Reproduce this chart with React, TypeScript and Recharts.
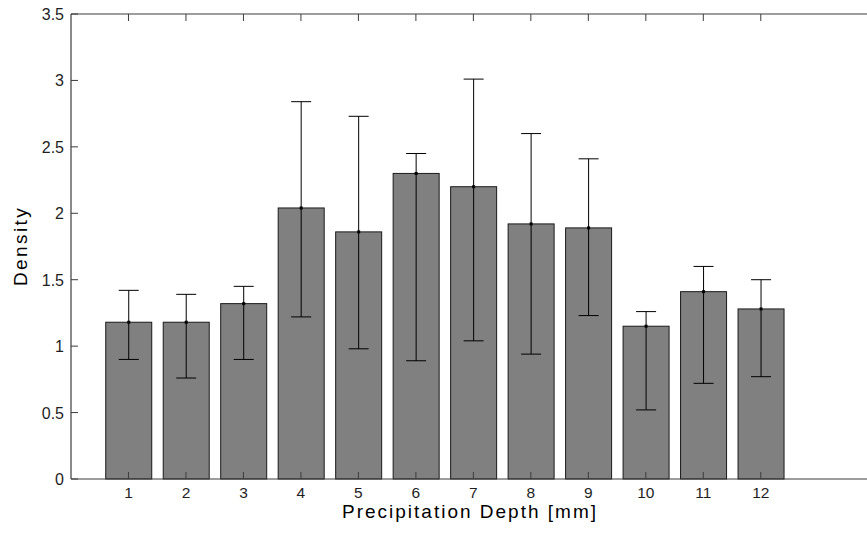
import React from "react";
import { ComposedChart, Bar, ErrorBar, XAxis, YAxis, Label } from "recharts";

// bin index along precipitation depth
const depths = [1, 2, 3, 4, 5, 6, 7, 8, 9, 10, 11, 12];
// mean density per bin
const density = [1.18, 1.18, 1.32, 2.04, 1.86, 2.3, 2.2, 1.92, 1.89, 1.15, 1.41, 1.28];
// error bar ends
const upper = [1.42, 1.39, 1.45, 2.84, 2.73, 2.45, 3.01, 2.6, 2.41, 1.26, 1.6, 1.5];
const lower = [0.9, 0.76, 0.9, 1.22, 0.98, 0.89, 1.04, 0.94, 1.23, 0.52, 0.72, 0.77];
const yTicks = [0, 0.5, 1, 1.5, 2, 2.5, 3, 3.5];

const data = depths.map((x, i) => ({
  x,
  mean: density[i],
  err: [density[i] - lower[i], upper[i] - density[i]],
}));

const AXIS = "#3c3c3c";
const TEXT = "#1e1e1e";
const FONT = "'Liberation Sans', Arial, sans-serif";

function LeftTick({ x, y, payload }: any) {
  return (
    <g>
      <line x1={x} x2={x + 7} y1={y} y2={y} stroke={AXIS} />
      <text x={x - 7} y={y + 6} textAnchor="end" fontSize={16} fill={TEXT} fontFamily={FONT}>
        {payload.value}
      </text>
    </g>
  );
}

function RightTick({ x, y }: any) {
  return <line x1={x} x2={x - 7} y1={y} y2={y} stroke={AXIS} />;
}

function BottomTick({ x, y, payload }: any) {
  return (
    <g>
      <line x1={x} x2={x} y1={y} y2={y - 7} stroke={AXIS} />
      <text x={x} y={y + 18.5} textAnchor="middle" fontSize={15.5} fill={TEXT} fontFamily={FONT}>
        {payload.value}
      </text>
    </g>
  );
}

function TopTick({ x, y }: any) {
  return <line x1={x} x2={x} y1={y} y2={y + 7} stroke={AXIS} />;
}

function BarShape({ x, y, width, height }: any) {
  return (
    <g>
      <rect x={x} y={y} width={width} height={height} fill="#808080" stroke="#1a1a1a" strokeWidth={1} />
      <rect x={x + width / 2 - 1.5} y={y - 1.5} width={3} height={3} fill="#000" />
    </g>
  );
}

export default function App() {
  return (
    <div
      style={{
        position: "fixed",
        left: 0,
        top: 0,
        width: 867,
        height: 536,
        overflow: "hidden",
        background: "#fff",
      }}
    >
      <ComposedChart
        width={880}
        height={536}
        data={data}
        margin={{ top: 4, right: 0, bottom: 7, left: 11 }}
      >
        <XAxis
          dataKey="x"
          type="number"
          domain={[0, 13.9]}
          ticks={depths}
          interval={0}
          height={50}
          tickSize={0}
          tickMargin={0}
          tickLine={false}
          tick={<BottomTick />}
          axisLine={{ stroke: AXIS, strokeWidth: 1.2 }}
          allowDataOverflow
        >
          <Label
            content={() => (
              <text
                x={470}
                y={518}
                textAnchor="middle"
                fontSize={19}
                letterSpacing={2}
                fill="#000"
                fontFamily={FONT}
              >
                Precipitation Depth [mm]
              </text>
            )}
          />
        </XAxis>
        <XAxis
          xAxisId="t"
          dataKey="x"
          type="number"
          orientation="top"
          domain={[0, 13.9]}
          ticks={depths}
          interval={0}
          height={10}
          tickSize={0}
          tickMargin={0}
          tickLine={false}
          tick={<TopTick />}
          axisLine={{ stroke: AXIS, strokeWidth: 1.2 }}
          allowDataOverflow
        />
        <YAxis
          type="number"
          domain={[0, 3.5]}
          ticks={yTicks}
          interval={0}
          width={60}
          tickSize={0}
          tickMargin={0}
          tickLine={false}
          tick={<LeftTick />}
          axisLine={{ stroke: AXIS, strokeWidth: 1.2 }}
        >
          <Label
            content={() => (
              <text
                x={27}
                y={246}
                transform="rotate(-90 27 246)"
                textAnchor="middle"
                fontSize={19}
                letterSpacing={2.4}
                fill="#000"
                fontFamily={FONT}
              >
                Density
              </text>
            )}
          />
        </YAxis>
        <YAxis
          yAxisId="r"
          orientation="right"
          type="number"
          domain={[0, 3.5]}
          ticks={yTicks}
          interval={0}
          width={10}
          tickSize={0}
          tickMargin={0}
          tickLine={false}
          tick={<RightTick />}
          axisLine={{ stroke: AXIS, strokeWidth: 1.2 }}
        />
        <Bar dataKey="mean" barSize={46} shape={<BarShape />} isAnimationActive={false}>
          <ErrorBar dataKey="err" width={10} stroke="#000" strokeWidth={1} isAnimationActive={false} />
        </Bar>
      </ComposedChart>
    </div>
  );
}
